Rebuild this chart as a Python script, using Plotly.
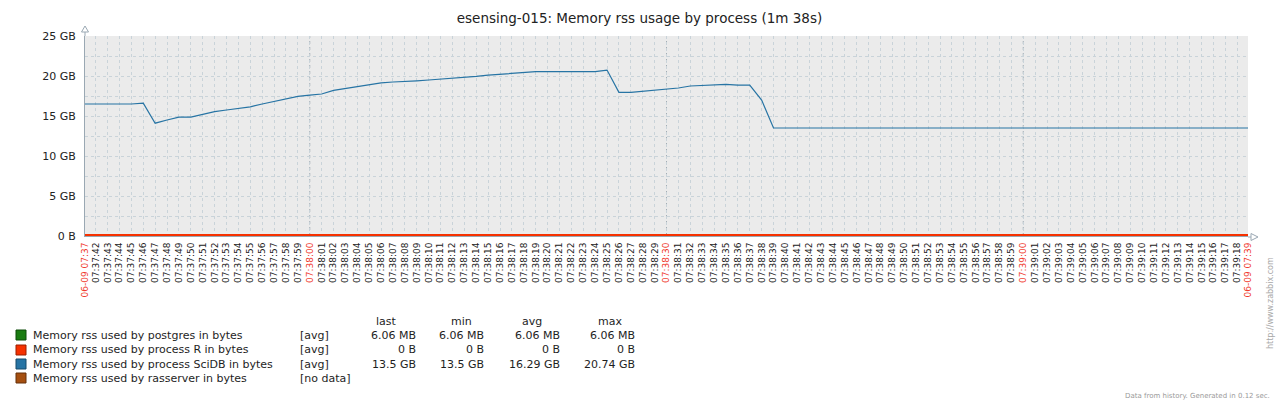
import plotly.graph_objects as go
import pandas as pd

# ---------------- data ----------------
title_text = "esensing-015: Memory rss usage by process (1m 38s)"

series_names = [
    "Memory rss used by postgres in bytes",
    "Memory rss used by process R in bytes",
    "Memory rss used by process SciDB in bytes",
    "Memory rss used by rasserver in bytes",
]
series_colors = ["#1A7C11", "#F63100", "#2774A4", "#A54F10"]
series_border = ["#0d4a08", "#9a1e00", "#174a6a", "#64300a"]
legend_func = ["[avg]", "[avg]", "[avg]", "[no data]"]
stat_headers = ["last", "min", "avg", "max"]
stat_last = ["6.06 MB", "0 B", "13.5 GB", ""]
stat_min = ["6.06 MB", "0 B", "13.5 GB", ""]
stat_avg = ["6.06 MB", "0 B", "16.29 GB", ""]
stat_max = ["6.06 MB", "0 B", "20.74 GB", ""]

# SciDB rss (GB), one sample per second starting 07:37:41
scidb_start = "2019-06-09 07:37:41"
scidb_gb = [
    16.5, 16.5, 16.5, 16.5, 16.5, 16.6,                       # 37:41-37:46
    14.1, 14.5, 14.85, 14.85, 15.2, 15.55, 15.75, 15.95,      # 37:47-37:54
    16.15, 16.5, 16.8, 17.1, 17.45,                           # 37:55-37:59
    17.6, 17.75, 18.2, 18.45, 18.7, 18.95, 19.15, 19.25,      # 38:00-38:07
    19.3, 19.4, 19.5, 19.6, 19.7, 19.85, 19.95, 20.1,         # 38:08-38:15
    20.2, 20.35, 20.45, 20.55, 20.55, 20.55, 20.55, 20.55,    # 38:16-38:23
    20.55, 20.74, 17.95, 17.95, 18.1, 18.25, 18.35, 18.5,     # 38:24-38:31
    18.75, 18.8, 18.85, 18.95, 18.85, 18.85, 17.0, 13.5,      # 38:32-38:39
    13.5, 13.5, 13.5, 13.5, 13.5, 13.5, 13.5, 13.5, 13.5, 13.5,   # 38:40-38:49
    13.5, 13.5, 13.5, 13.5, 13.5, 13.5, 13.5, 13.5, 13.5, 13.5,   # 38:50-38:59
    13.5, 13.5, 13.5, 13.5, 13.5, 13.5, 13.5, 13.5, 13.5, 13.5,   # 39:00-39:09
    13.5, 13.5, 13.5, 13.5, 13.5, 13.5, 13.5, 13.5, 13.5, 13.5,   # 39:10-39:19
]
pg_times = ["2019-06-09 07:37:41", "2019-06-09 07:39:19"]
pg_gb = [0.00606, 0.00606]
r_times = ["2019-06-09 07:37:41", "2019-06-09 07:39:19"]
r_gb = [0.0, 0.0]

x_range = ["2019-06-09 07:37:41.1", "2019-06-09 07:39:18.9"]
major_times = ["2019-06-09 07:38:00", "2019-06-09 07:38:30", "2019-06-09 07:39:00"]
edge_labels = ["06-09 07:37", "06-09 07:39"]

y_tickvals = [0, 2.5, 5, 7.5, 10, 12.5, 15, 17.5, 20, 22.5, 25]
y_ticktext = ["0 B", "", "5 GB", "", "10 GB", "", "15 GB", "", "20 GB", "", "25 GB"]

# ---------------- build ----------------
RED = "#f03a2e"
scidb_times = pd.date_range(scidb_start, periods=len(scidb_gb), freq="s")
tick_seconds = pd.date_range("2019-06-09 07:37:42", "2019-06-09 07:39:18", freq="s")
majors = set(pd.to_datetime(major_times))

tickvals = [x_range[0]]
ticktext = [f'<span style="color:{RED}">{edge_labels[0]}</span>']
for t in tick_seconds:
    tickvals.append(t.strftime("%Y-%m-%d %H:%M:%S"))
    lab = t.strftime("%H:%M:%S")
    if t in majors:
        lab = f'<span style="color:{RED}">{lab}</span>'
    ticktext.append(lab)
tickvals.append(x_range[1])
ticktext.append(f'<span style="color:{RED}">{edge_labels[1]}</span>')

FONT = "DejaVu Sans"
W, H = 1279, 404
L, R, T, B = 85, 1248, 36, 236


def px(x):
    return (x - L) / (R - L)


def py(y):
    return (B - y) / (B - T)


fig = go.Figure()
fig.add_trace(go.Scatter(x=pg_times, y=pg_gb, mode="lines",
                         line=dict(color=series_colors[0], width=2), hoverinfo="skip"))
fig.add_trace(go.Scatter(x=r_times, y=r_gb, mode="lines",
                         line=dict(color=series_colors[1], width=4), hoverinfo="skip"))
fig.add_trace(go.Scatter(x=scidb_times, y=scidb_gb, mode="lines",
                         line=dict(color=series_colors[2], width=1.2), hoverinfo="skip"))

shapes = []
for mt in major_times:
    shapes.append(dict(type="line", xref="x", yref="paper", x0=mt, x1=mt, y0=0, y1=1,
                       line=dict(color="#a3adb4", width=1, dash="3px,3px"), layer="below"))
axis_col = "#9aa8b3"
# axis extensions and arrows
shapes.append(dict(type="line", xref="paper", yref="paper", x0=0, x1=0, y0=1, y1=py(28),
                   line=dict(color=axis_col, width=1)))
shapes.append(dict(type="path", xref="paper", yref="paper",
                   path=f"M {px(81.5)} {py(32)} L {px(85)} {py(26)} L {px(88.5)} {py(32)} Z",
                   line=dict(color=axis_col, width=1), fillcolor="white"))
shapes.append(dict(type="line", xref="paper", yref="paper", x0=1, x1=px(1256), y0=py(237), y1=py(237),
                   line=dict(color=axis_col, width=1)))
shapes.append(dict(type="path", xref="paper", yref="paper",
                   path=f"M {px(1251)} {py(233.5)} L {px(1258)} {py(237)} L {px(1251)} {py(240.5)} Z",
                   line=dict(color=axis_col, width=1), fillcolor="white"))

annotations = []
leg_y = [335, 350, 364, 378]
for i in range(4):
    yc = leg_y[i]
    shapes.append(dict(type="rect", xref="paper", yref="paper",
                       x0=px(16), x1=px(26), y0=py(yc + 5), y1=py(yc - 5),
                       fillcolor=series_colors[i], line=dict(color=series_border[i], width=1)))
    annotations.append(dict(xref="paper", yref="paper", x=px(31), y=py(yc), text=series_names[i],
                            showarrow=False, xanchor="left", yanchor="middle",
                            font=dict(family=FONT, size=11, color="#1e1e1e")))
    annotations.append(dict(xref="paper", yref="paper", x=px(298), y=py(yc), text=legend_func[i],
                            showarrow=False, xanchor="left", yanchor="middle",
                            font=dict(family=FONT, size=11, color="#1e1e1e")))
    for vals, xr in zip([stat_last, stat_min, stat_avg, stat_max], [418, 486, 562, 637]):
        if vals[i]:
            annotations.append(dict(xref="paper", yref="paper", x=px(xr), y=py(yc), text=vals[i],
                                    showarrow=False, xanchor="right", yanchor="middle",
                                    font=dict(family=FONT, size=11, color="#1e1e1e")))
for h, xc in zip(stat_headers, [386, 461, 532, 610]):
    annotations.append(dict(xref="paper", yref="paper", x=px(xc), y=py(321), text=h,
                            showarrow=False, xanchor="center", yanchor="middle",
                            font=dict(family=FONT, size=11, color="#1e1e1e")))

annotations.append(dict(xref="paper", yref="paper", x=px(1272), y=py(396),
                        text="Data from history. Generated in 0.12 sec.", showarrow=False,
                        xanchor="right", yanchor="middle",
                        font=dict(family=FONT, size=7, color="#9a9a9a")))
annotations.append(dict(xref="paper", yref="paper", x=px(1270), y=py(303),
                        text="http://www.zabbix.com", showarrow=False, textangle=-90,
                        xanchor="center", yanchor="middle",
                        font=dict(family=FONT, size=8, color="#a8a8a8")))

fig.update_layout(
    width=W, height=H,
    margin=dict(l=L, r=W - R, t=T, b=H - B, pad=0),
    paper_bgcolor="white", plot_bgcolor="#ebebeb",
    showlegend=False,
    title=dict(text=title_text, x=0.5, xref="container", xanchor="center",
               y=1 - 18 / H, yref="container", yanchor="middle",
               font=dict(family=FONT, size=13.5, color="#222222")),
    xaxis=dict(type="date", range=x_range, tickmode="array", tickvals=tickvals, ticktext=ticktext,
               tickangle=-90, tickfont=dict(family=FONT, size=9, color="#222222"),
               showgrid=True, gridcolor="#c9d3d9", griddash="3px,3px", gridwidth=1,
               showline=True, linecolor=axis_col, linewidth=1, zeroline=False,
               ticks="", ticklabelstandoff=2, fixedrange=True, automargin=False),
    yaxis=dict(range=[0, 25], tickmode="array", tickvals=y_tickvals, ticktext=y_ticktext,
               tickfont=dict(family=FONT, size=11, color="#222222"),
               showgrid=True, gridcolor="#c9d3d9", griddash="3px,3px", gridwidth=1,
               showline=True, linecolor=axis_col, linewidth=1, zeroline=False,
               ticks="", ticklabelstandoff=6, fixedrange=True, automargin=False),
    shapes=shapes, annotations=annotations,
)

fig.write_html("out.html", config={"displayModeBar": False},
               post_script="document.body.style.margin='0';")
